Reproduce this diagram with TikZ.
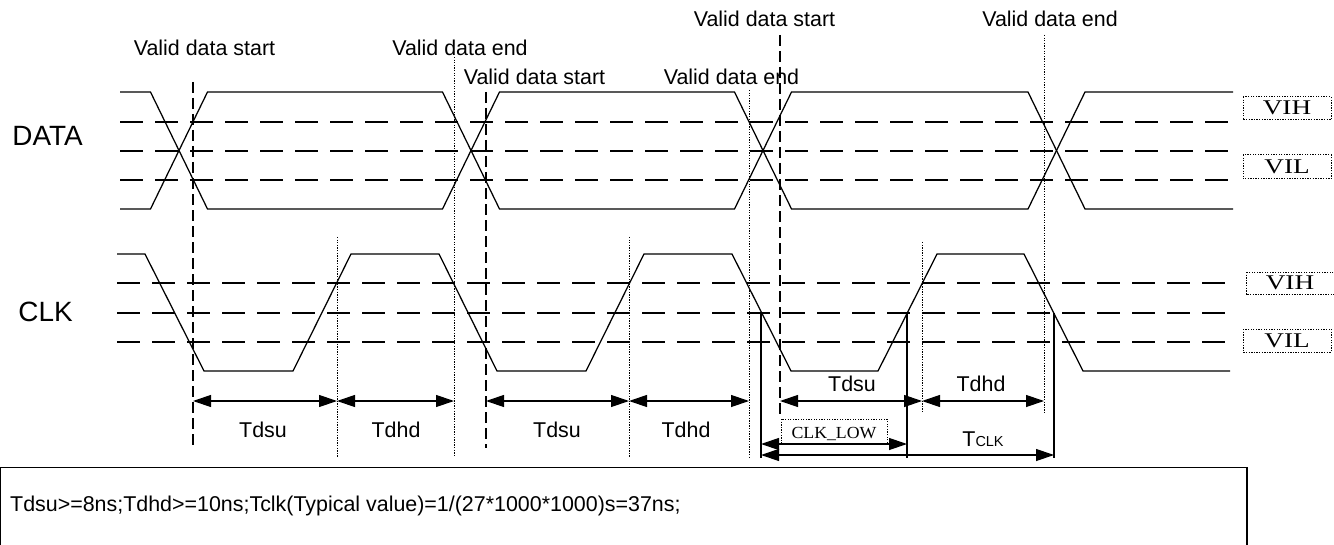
\documentclass[tikz,border=0pt]{standalone}
\usepackage{fontspec}
\usepackage{graphicx}
\setmainfont{Liberation Sans}
\newfontfamily\serifnt{Liberation Serif}
\usetikzlibrary{arrows.meta}
\begin{document}
\begin{tikzpicture}[x=1bp,y=-1bp,
  sig/.style={line width=1.25bp, line join=miter},
  lvl/.style={line width=1.25bp, dash pattern=on 23bp off 12bp},
  vdash/.style={line width=1.2bp, dash pattern=on 11bp off 5bp},
  vdot/.style={line width=1bp, dash pattern=on 1.3bp off 1.3bp},
  vsol/.style={line width=1.2bp},
  dimarrow/.style={line width=1.2bp, {Triangle[length=18bp,width=12bp]}-{Triangle[length=18bp,width=12bp]}},
  lab/.style={font=\fontsize{21.5}{24}\selectfont, inner sep=0pt},
  biglab/.style={font=\fontsize{28}{32}\selectfont, inner sep=0pt},
  serlab/.style={font=\serifnt\fontsize{21}{24}\selectfont, inner sep=0pt},
  lvbox/.style={vdot, draw}
]
\useasboundingbox (0,0) rectangle (1334,545);

% DATA level lines
\foreach \y in {122,151,180} \draw[lvl] (120,\y) -- (1233,\y);
% CLK level lines
\foreach \y in {283,313,342} \draw[lvl] (117,\y) -- (1230,\y);

% DATA signal
\draw[sig] (120,92) -- (150.5,92) -- (207.5,209) -- (442.5,209) -- (499.5,92) -- (734.5,92) -- (791.5,209) -- (1028,209) -- (1085,92) -- (1233,92);
\draw[sig] (120,209) -- (150.5,209) -- (207.5,92) -- (442.5,92) -- (499.5,209) -- (734.5,209) -- (791.5,92) -- (1028,92) -- (1085,209) -- (1233,209);

% CLK signal
\draw[sig] (117,254) -- (145,254) -- (204,371) -- (293,371) -- (351,254) -- (439,254) -- (497,371) -- (586,371) -- (644,254) -- (732,254) -- (791,371) -- (878,371) -- (937,254) -- (1024,254) -- (1083,371) -- (1230,371);

% vertical marker lines
\coordinate (s1t) at (193,82);   \coordinate (s1b) at (193,448);
\coordinate (s2t) at (486,92);   \coordinate (s2b) at (486,448);
\coordinate (s3t) at (780,35);   \coordinate (s3b) at (780,419);
\coordinate (e1t) at (454,57);   \coordinate (e1b) at (454,457);
\coordinate (e2t) at (749,90);   \coordinate (e2b) at (749,457);
\coordinate (e3t) at (1044,35);  \coordinate (e3b) at (1044,413);
\coordinate (r1t) at (337,237);  \coordinate (r1b) at (337,457);
\coordinate (r2t) at (629,237);  \coordinate (r2b) at (629,457);
\coordinate (r3t) at (922,242);  \coordinate (r3b) at (922,413);
\coordinate (m1t) at (761,313);  \coordinate (m1b) at (761,458);
\coordinate (m2t) at (907,313);  \coordinate (m2b) at (907,458);
\coordinate (m3t) at (1054,313); \coordinate (m3b) at (1054,458);

\draw[vdash] (s1t) -- (s1b);
\draw[vdash] (s2t) -- (s2b);
\draw[vdash] (s3t) -- (s3b);
\draw[vdot] (e1t) -- (e1b);
\draw[vdot] (e2t) -- (e2b);
\draw[vdot] (e3t) -- (e3b);
\draw[vdot] (r1t) -- (r1b);
\draw[vdot] (r2t) -- (r2b);
\draw[vdot] (r3t) -- (r3b);
\draw[vsol] (m1t) -- (m1b);
\draw[vsol] (m2t) -- (m2b);
\draw[vsol] (m3t) -- (m3b);

% dimension arrows
\coordinate (a1) at (193,401); \coordinate (a2) at (337,401); \coordinate (a3) at (454,401);
\coordinate (a4) at (486,401); \coordinate (a5) at (629,401); \coordinate (a6) at (749,401);
\coordinate (a7) at (780,401); \coordinate (a8) at (922,401); \coordinate (a9) at (1044,401);
\draw[dimarrow] (a1) -- (a2);
\draw[dimarrow] (a2) -- (a3);
\draw[dimarrow] (a4) -- (a5);
\draw[dimarrow] (a5) -- (a6);
\draw[dimarrow] (a7) -- (a8);
\draw[dimarrow] (a8) -- (a9);
\coordinate (cl1) at (761,444); \coordinate (cl2) at (907,444);
\coordinate (tc1) at (761,455); \coordinate (tc2) at (1054,455);
\draw[dimarrow] (cl1) -- (cl2);
\draw[dimarrow] (tc1) -- (tc2);

% CLK_LOW box
\draw[lvbox] (781,419) rectangle (887,443);
\node[font=\serifnt\fontsize{17}{19}\selectfont, inner sep=0pt, anchor=base] (clklow) at (834,438) {\scalebox{1.05}[1]{CLK\_LOW}};

% TCLK label
\node[lab, anchor=base] (tclk) at (983,446) {T{\fontsize{14.5}{16}\selectfont CLK}};

% Tdsu / Tdhd labels
\node[lab, anchor=base] (t1) at (263,437) {Tdsu};
\node[lab, anchor=base] (t2) at (396,437) {Tdhd};
\node[lab, anchor=base] (t3) at (557,437) {Tdsu};
\node[lab, anchor=base] (t4) at (686,437) {Tdhd};
\node[lab, anchor=base] (t5) at (852,391) {Tdsu};
\node[lab, anchor=base] (t6) at (981,391) {Tdhd};

% Valid data labels
\node[lab, anchor=base] (v1) at (204.5,56) {Valid data start};
\node[lab, anchor=base] (v2) at (460,56) {Valid data end};
\node[lab, anchor=base] (v3) at (534.5,85) {Valid data start};
\node[lab, anchor=base] (v4) at (731.5,85) {Valid data end};
\node[lab, anchor=base] (v5) at (764.5,27) {Valid data start};
\node[lab, anchor=base] (v6) at (1050,27) {Valid data end};

% signal names
\node[biglab] (data) at (47.5,136) {DATA};
\node[biglab] (clk) at (45.5,312) {CLK};

% VIH / VIL boxes
\draw[lvbox] (1243,97) rectangle (1331,120);
\node[serlab, anchor=base] (dvih) at (1287,115) {\scalebox{1.3}[1]{VIH}};
\draw[lvbox] (1243,155) rectangle (1331,179);
\node[serlab, anchor=base] (dvil) at (1287,174) {\scalebox{1.3}[1]{VIL}};
\draw[lvbox] (1246,272) rectangle (1334,294);
\node[serlab, anchor=base] (cvih) at (1290,289) {\scalebox{1.3}[1]{VIH}};
\draw[lvbox] (1243,329) rectangle (1331,352);
\node[serlab, anchor=base] (cvil) at (1287,347.5) {\scalebox{1.3}[1]{VIL}};

% bottom note box
\draw[line width=1.3bp] (0.8,546) -- (0.8,467.5) -- (1247,467.5) -- (1247,546);
\node[lab, anchor=base west] (note) at (10,511) {Tdsu>=8ns;Tdhd>=10ns;Tclk(Typical value)=1/(27*1000*1000)s=37ns;};
\end{tikzpicture}
\end{document}
